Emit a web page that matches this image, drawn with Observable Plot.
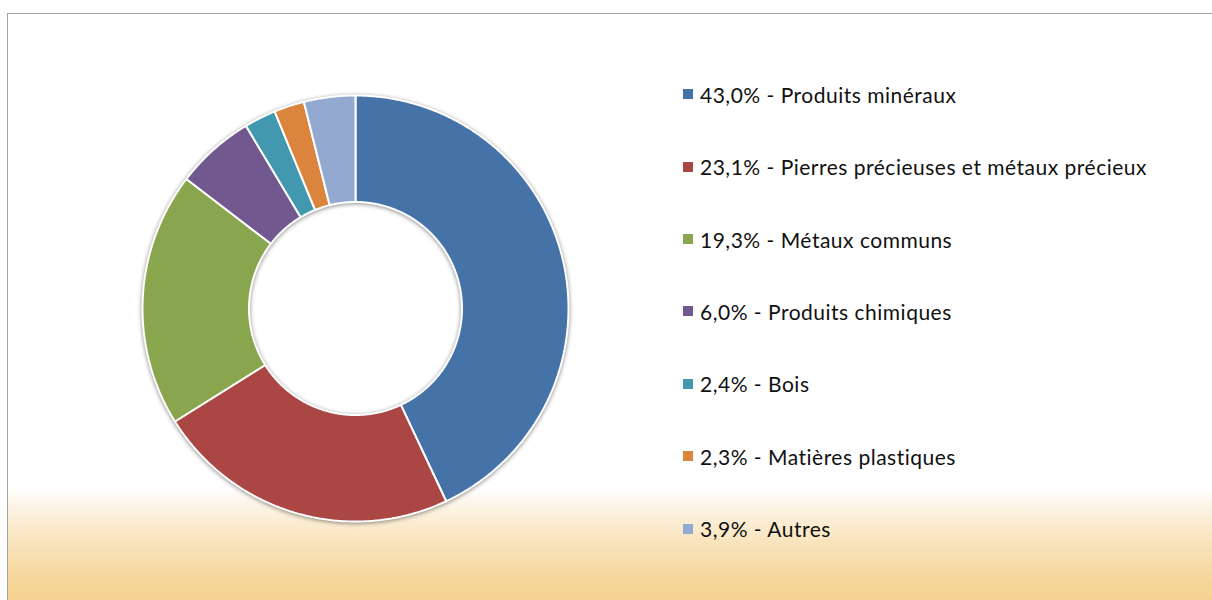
<!DOCTYPE html>
<html>
<head>
<meta charset="utf-8">
<script src="https://cdn.jsdelivr.net/npm/d3@7"></script>
<script src="https://cdn.jsdelivr.net/npm/@observablehq/plot@0.6"></script>
<style>
  html, body { margin: 0; padding: 0; background: #fff; }
  #wrap { position: relative; width: 1212px; height: 600px; overflow: hidden; background: #fff; }
  #frame { position: absolute; left: 7px; top: 13px; right: -5px; bottom: -5px;
    border-left: 1px solid #a3a3a3; border-top: 1px solid #a3a3a3;
    background: linear-gradient(to bottom, #ffffff 0px, #ffffff 474px, #fdf5e8 490px, #f9e4bd 528px, #f6d79c 563px, #f5d08c 592px); }
  #chart { position: absolute; left: 0; top: 0; }
  #chart svg g[aria-label="line"] { filter: drop-shadow(0px 1.5px 2px rgba(0,0,0,0.45)); }
  #legend { position: absolute; left: 683px; top: 0; font-family: Lato, "Open Sans", sans-serif; font-size: 21px; letter-spacing: 0.5px; color: #111; }
  .item { position: absolute; left: 0; white-space: nowrap; display: flex; align-items: center; }
  .sw { width: 10px; height: 10px; margin-right: 7px; }
</style>
</head>
<body>
<div id="wrap">
  <div id="frame"></div>
  <div id="chart"></div>
  <div id="legend"></div>
</div>
<script>
const categories = ["Produits minéraux", "Pierres précieuses et métaux précieux", "Métaux communs", "Produits chimiques", "Bois", "Matières plastiques", "Autres"];
const shares = [43.0, 23.1, 19.3, 6.0, 2.4, 2.3, 3.9];
const colors = ["#4572A7", "#AA4643", "#89A54E", "#71588F", "#4198AF", "#DB843D", "#93A9CF"];

const inner = 0.5;
const total = d3.sum(shares);
const pts = [];
let cum = 0;
shares.forEach((s, i) => {
  const a0 = cum / total * 2 * Math.PI;
  cum += s;
  const a1 = cum / total * 2 * Math.PI;
  const n = Math.max(2, Math.ceil((a1 - a0) / (Math.PI / 360)));
  const poly = [];
  for (let k = 0; k <= n; k++) { const a = a0 + (a1 - a0) * k / n; poly.push([Math.sin(a), Math.cos(a)]); }
  for (let k = n; k >= 0; k--) { const a = a0 + (a1 - a0) * k / n; poly.push([inner * Math.sin(a), inner * Math.cos(a)]); }
  poly.push(poly[0]);
  poly.forEach(([x, y]) => pts.push({cat: categories[i], x, y}));
});

const chart = Plot.plot({
  width: 1212, height: 600,
  marginLeft: 142, marginRight: 644, marginTop: 95, marginBottom: 79,
  x: {domain: [-1, 1], axis: null},
  y: {domain: [-1, 1], axis: null},
  color: {domain: categories, range: colors},
  style: {background: "transparent", overflow: "visible"},
  marks: [
    Plot.line(pts, {x: "x", y: "y", z: "cat", fill: "cat", stroke: "white", strokeWidth: 2, strokeLinejoin: "miter"})
  ]
});
document.getElementById("chart").appendChild(chart);

const legend = document.getElementById("legend");
const rowY = [94, 166.5, 239, 311, 383.5, 456, 528.5];
categories.forEach((c, i) => {
  const div = document.createElement("div");
  div.className = "item";
  div.style.top = (rowY[i] - 13) + "px";
  div.style.height = "26px";
  const sw = document.createElement("span");
  sw.className = "sw"; sw.style.background = colors[i];
  const t = document.createElement("span");
  t.textContent = shares[i].toFixed(1).replace(".", ",") + "% - " + c;
  div.appendChild(sw); div.appendChild(t);
  legend.appendChild(div);
});
</script>
</body>
</html>
